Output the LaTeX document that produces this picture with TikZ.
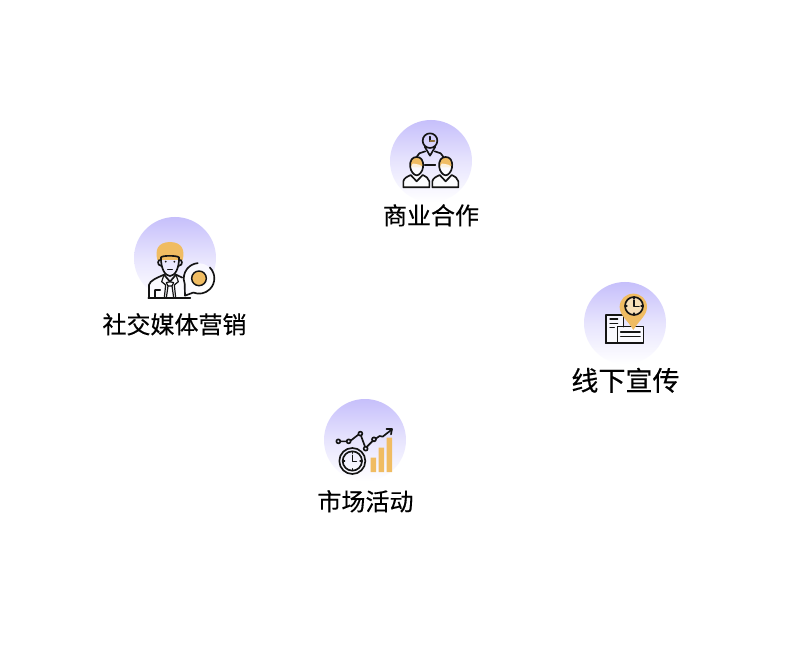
\documentclass[tikz,border=0pt]{standalone}
\usepackage{fontspec}
\newfontfamily\cjk[FakeBold=0.35]{Noto Sans CJK SC}
\definecolor{gold}{HTML}{F0BC62}
\definecolor{disc}{HTML}{C6BFFB}
\definecolor{ink}{HTML}{141414}
\tikzset{
  disc/.style={circle,minimum size=61.5pt,inner sep=0pt,top color=disc,bottom color=white,middle color=disc!42!white},
  lab/.style={font=\cjk\fontsize{18}{20}\selectfont,text=black,inner sep=0pt},
  labbig/.style={font=\cjk\fontsize{20.3}{22}\selectfont,text=black,inner sep=0pt},
  ic/.style={draw=ink,line width=1.25pt,line join=round,line cap=round},
  icthin/.style={draw=ink,line width=0.9pt,line cap=round,line join=round}
}
\begin{document}
\begin{tikzpicture}[x=0.75pt,y=-0.75pt]
\useasboundingbox[fill=white] (0,0) rectangle (800,652);
\node[disc] (d1) at (431,161) {};
\node[disc] (d2) at (175,258) {};
\node[disc] (d3) at (625,323) {};
\node[disc] (d4) at (365,440) {};
\node[lab] (t1) at (431,215.3) {商业合作};
\node[lab] (t2) at (174.5,324.3) {社交媒体营销};
\node[labbig] (t3) at (625.5,380.3) {线下宣传};
\node[lab] (t4) at (365.5,501.3) {市场活动};
% icon 1
\begin{scope}[shift={(380,110)},x=0.25pt,y=-0.25pt]
  \draw[ic] (150,92) circle (22);
  \draw[ic] (150,80) -- (150,94);
  \draw[ic,draw=gold!60!black] (150,94) -- (163,94);
  \draw[ic] (134,110) -- (150,137) -- (166,110);
  \draw[ic] (136,124) -- (118,130) -- (106,146);
  \draw[ic] (164,124) -- (182,130) -- (194,146);
  \draw[ic] (134,166) -- (166,166);
  \foreach \dx in {0,87}{
    \begin{scope}[xshift=\dx*0.25pt]
      \fill[white,opacity=.8] (70,232) -- (70,214) .. controls (72,204) and (82,200) .. (92,195) -- (128,195) .. controls (138,200) and (146,204) .. (148,214) -- (148,232) -- cycle;
      \fill[gold] (91,172) .. controls (88,150) and (98,141) .. (110,141) .. controls (122,141) and (132,150) .. (129,172) -- cycle;
      \fill[white,opacity=.8] (93,170) .. controls (96,160) and (102,158) .. (108,162) .. controls (116,166) and (124,162) .. (127,170) .. controls (126,182) and (118,194) .. (110,194) .. controls (102,194) and (94,182) .. (93,170) -- cycle;
      \draw[ic] (91,172) .. controls (88,150) and (98,141) .. (110,141) .. controls (122,141) and (132,150) .. (129,172) .. controls (128,184) and (118,196) .. (110,196) .. controls (102,196) and (92,184) .. (91,172) -- cycle;
      \draw[ic] (70,232) -- (70,214) .. controls (72,204) and (82,200) .. (92,195) -- (110,214) -- (128,195) .. controls (138,200) and (146,204) .. (148,214) -- (148,232) -- cycle;
    \end{scope}
  }
\end{scope}
% icon 2
\begin{scope}[shift={(125,210)},x=0.25pt,y=-0.25pt]
  \fill[gold] (97,150) .. controls (90,120) and (97,97) .. (135,96) .. controls (172,97) and (180,120) .. (173,150) -- cycle;
  \draw[ic] (108,142) .. controls (112,136) and (155,136) .. (162,142) .. controls (163,175) and (150,198) .. (135,198) .. controls (120,198) and (107,175) .. (108,142) -- cycle;
  \draw[ic] (108,150) .. controls (98,146) and (94,166) .. (109,168);
  \draw[ic] (162,150) .. controls (172,146) and (176,166) .. (161,168);
  \fill[ink] (122,155) circle (3) (148,155) circle (3);
  \draw[icthin] (128,178) -- (142,178);
  \fill[white,opacity=.55] (72,262) -- (72,225) .. controls (74,212) and (95,204) .. (117,194) -- (135,215) -- (153,194) -- (175,205) -- (175,262) -- cycle;
  \draw[ic] (72,263) -- (72,225) .. controls (74,212) and (95,204) .. (117,194) -- (135,215) -- (153,194) -- (172,203);
  \draw[ic] (70,264) -- (196,264);
  \draw[icthin] (117,194) -- (110,215) -- (122,225) -- (118,263);
  \draw[icthin] (153,194) -- (160,215) -- (148,225) -- (152,263);
  \draw[icthin] (124,218) -- (135,215) -- (146,218) -- (141,228) -- (129,228) -- cycle;
  \draw[icthin] (129,228) -- (124,263) (141,228) -- (146,263);
  \draw[icthin] (90,240) -- (90,263) (90,240) -- (106,240);
  % bubble
  \fill[white,opacity=.7] (222,205) circle (45);
  \draw[ic] (222,205) ++(-45:46) arc (-45:112:46) -- (180,257) -- (179,221) arc (160:265:46);
  \filldraw[fill=gold,draw=ink,line width=1.1pt] (222,205) circle (22);
\end{scope}
% icon 3
\begin{scope}[shift={(575,275)},x=0.25pt,y=-0.25pt]
  \fill[white,opacity=.7] (92,120) rectangle (145,204) (127,155) rectangle (205,204);
  \draw[ic] (92,204) -- (92,120) -- (145,120) -- (145,155);
  \draw[ic] (92,204) -- (205,204) -- (205,155) -- (127,155) -- (127,204);
  \draw[icthin] (105,132) -- (128,132) (105,145) -- (128,145) (105,158) -- (118,158);
  \draw[ic] (137,172) -- (195,172) (137,185) -- (195,185);
  \fill[gold] (175,165) .. controls (160,138) and (134,122) .. (134,96) .. controls (134,72) and (153,56) .. (175,56) .. controls (197,56) and (216,72) .. (216,96) .. controls (216,122) and (190,138) .. (175,165) -- cycle;
  \fill[white,opacity=.55] (177,93) circle (27);
  \draw[ic] (177,93) circle (27);
  \draw[ic] (177,76) -- (177,95) -- (192,95);
  \foreach \a in {0,90,180,270}{\draw[icthin] (177,93) ++(\a:27) -- ++(\a+180:6);}
\end{scope}
% icon 4
\begin{scope}[shift={(315,392)},x=0.25pt,y=-0.25pt]
  \fill[gold] (167,197) rectangle (183,240) (191,167) rectangle (207,240) (215,137) rectangle (231,240);
  \draw[ic] (76,148) -- (95,148) (107,146) -- (130,128) (138,131) -- (150,164) (155,165) -- (173,147) (182,140) -- (194,132) -- (203,134) -- (230,113);
  \draw[ic] (214,111) -- (231,111) -- (228,127);
  \foreach \p in {(70,148),(101,148),(136,125),(152,170),(177,142)}{\draw[ic] \p circle (6);}
  \draw[ic] (112,207) circle (39);
  \draw[ic] (112,207) circle (29);
  \draw[ic] (112,190) -- (112,208) -- (124,208);
  \foreach \a in {0,90,180,270}{\draw[icthin] (112,207) ++(\a:29) -- ++(\a+180:6);}
\end{scope}
\end{tikzpicture}
\end{document}
